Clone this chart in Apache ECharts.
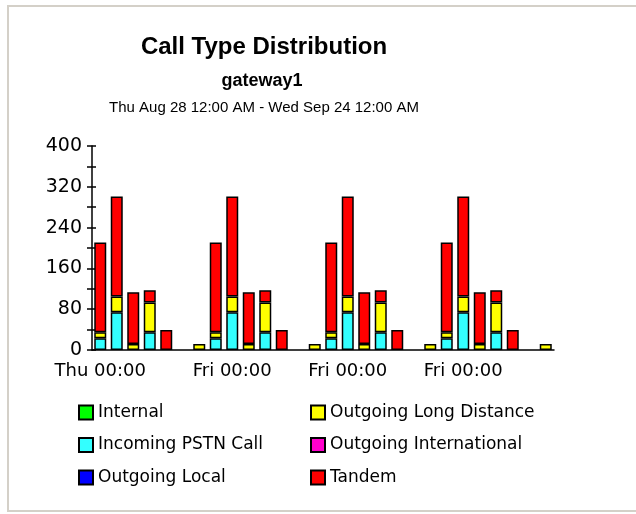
<!DOCTYPE html>
<html>
<head>
<meta charset="utf-8">
<script src="https://cdn.jsdelivr.net/npm/echarts@6/dist/echarts.min.js"></script>
<style>
  html, body { margin: 0; padding: 0; background: #fff; }
  #chart { width: 636px; height: 514px; }
</style>
</head>
<body>
<div id="chart"></div>
<script>
// one slot per day, Thu Aug 28 .. Wed Sep 24
const days = [];
const dayNames = ["Thu", "Fri", "Sat", "Sun", "Mon", "Tue", "Wed"];
for (let w = 0; w < 4; w++) {
  for (let d = 0; d < 7; d++) days.push(dayNames[d] + " 00:00");
}
const labelIdx = [0, 8, 15, 22];

const internal = [
  0, 0, 0, 0, 0, 0, 0,
  0, 0, 0, 0, 0, 0, 0,
  0, 0, 0, 0, 0, 0, 0,
  0, 0, 0, 0, 0, 0, 0,
];
const incomingPstn = [
  23, 74, 0, 35, 0, 0, 0,
  23, 74, 0, 35, 0, 0, 0,
  23, 74, 0, 35, 0, 0, 0,
  23, 74, 0, 35, 0, 0, 0,
];
const outgoingLocal = [
  0, 0, 0, 0, 0, 0, 0,
  0, 0, 0, 0, 0, 0, 0,
  0, 0, 0, 0, 0, 0, 0,
  0, 0, 0, 0, 0, 0, 0,
];
const longDistance = [
  12, 31, 12, 58, 0, 0, 12,
  12, 31, 12, 58, 0, 0, 12,
  12, 31, 12, 58, 0, 0, 12,
  12, 31, 12, 58, 0, 0, 12,
];
const international = [
  0, 0, 0, 0, 0, 0, 0,
  0, 0, 0, 0, 0, 0, 0,
  0, 0, 0, 0, 0, 0, 0,
  0, 0, 0, 0, 0, 0, 0,
];
const tandem = [
  176, 196, 101, 24, 39, 0, 0,
  176, 196, 101, 24, 39, 0, 0,
  176, 196, 101, 24, 39, 0, 0,
  176, 196, 101, 24, 39, 0, 0,
];

const seriesDefs = [
  { name: "Internal", color: "#00ff00", data: internal },
  { name: "Incoming PSTN Call", color: "#33ffff", data: incomingPstn },
  { name: "Outgoing Local", color: "#0000ff", data: outgoingLocal },
  { name: "Outgoing Long Distance", color: "#ffff00", data: longDistance },
  { name: "Outgoing International", color: "#ff00cc", data: international },
  { name: "Tandem", color: "#ff0000", data: tandem },
];

const chart = echarts.init(document.getElementById("chart"));

const legendText = {
  fontFamily: "DejaVu Sans",
  fontSize: 17,
  color: "#000",
};

const option = {
  backgroundColor: "#fff",
  animation: false,
  legend: [
    {
      data: seriesDefs.slice(0, 3).map((s) => s.name),
      orient: "vertical",
      left: 78, top: 404, padding: 0,
      itemWidth: 14, itemHeight: 14, itemGap: 15.5,
      selectedMode: false,
      icon: "rect",
      textStyle: legendText,
    },
    {
      data: seriesDefs.slice(3).map((s) => s.name),
      orient: "vertical",
      left: 310, top: 404, padding: 0,
      itemWidth: 14, itemHeight: 14, itemGap: 15.5,
      selectedMode: false,
      icon: "rect",
      textStyle: legendText,
    },
  ],
  grid: { left: 92, right: 82, top: 146, bottom: 164 },
  xAxis: {
    type: "category",
    data: days,
    boundaryGap: true,
    axisLine: { lineStyle: { color: "#000", width: 1.5 } },
    axisTick: {
      alignWithLabel: true,
      length: 6,
      interval: (i) => labelIdx.includes(i),
      lineStyle: { color: "#000", width: 1.5 },
    },
    axisLabel: {
      interval: (i) => labelIdx.includes(i),
      margin: 12,
      fontFamily: "DejaVu Sans",
      fontSize: 18,
      color: "#000",
    },
    splitLine: { show: false },
  },
  yAxis: [
    {
      type: "value",
      min: 0, max: 400, interval: 80,
      axisLine: { show: true, lineStyle: { color: "#000", width: 1.5 } },
      axisTick: { show: true, length: 5, lineStyle: { color: "#000", width: 1.5 } },
      minorTick: { show: true, splitNumber: 2, length: 5, lineStyle: { color: "#000", width: 1.5 } },
      axisLabel: { margin: 10, fontFamily: "DejaVu Sans", fontSize: 19, color: "#000" },
      splitLine: { show: false },
    },
    {
      type: "value",
      position: "left",
      min: 0, max: 400, interval: 80,
      axisLine: { show: false },
      axisTick: { show: true, inside: true, length: 4, lineStyle: { color: "#000", width: 1.5 } },
      minorTick: { show: true, splitNumber: 2, length: 4, lineStyle: { color: "#000", width: 1.5 } },
      axisLabel: { show: false },
      splitLine: { show: false },
    },
  ],
  graphic: [
    {
      type: "polyline",
      silent: true,
      shape: { points: [[636, 6], [8, 6], [8, 511], [636, 511]] },
      style: { fill: null, stroke: "#d4d0c8", lineWidth: 2 },
    },
    {
      type: "text", silent: true, x: 264, y: 47,
      style: {
        text: "Call Type Distribution", align: "center", verticalAlign: "middle",
        font: "bold 24px 'Liberation Sans'", fill: "#000",
      },
    },
    {
      type: "text", silent: true, x: 262, y: 81,
      style: {
        text: "gateway1", align: "center", verticalAlign: "middle",
        font: "bold 18px 'Liberation Sans'", fill: "#000",
      },
    },
    {
      type: "text", silent: true, x: 264, y: 108,
      style: {
        text: "Thu Aug 28 12:00 AM - Wed Sep 24 12:00 AM", align: "center", verticalAlign: "middle",
        font: "15px 'Liberation Sans'", fill: "#000",
      },
    },
  ],
  series: seriesDefs.map((s) => ({
    name: s.name,
    type: "bar",
    stack: "total",
    barWidth: 12,
    itemStyle: { color: s.color, borderColor: "#000", borderWidth: 1.5 },
    data: s.data.map((v) => (v === 0 ? "-" : v)),
  })),
};

chart.setOption(option);
</script>
</body>
</html>
